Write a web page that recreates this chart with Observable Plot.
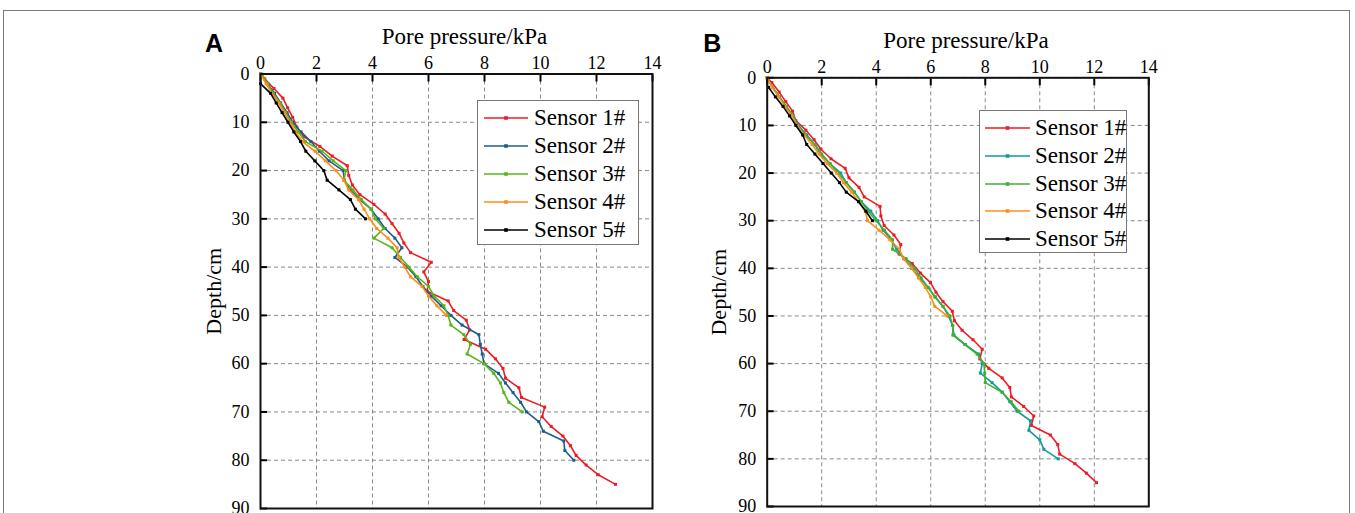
<!DOCTYPE html>
<html><head><meta charset="utf-8">
<script src="https://cdn.jsdelivr.net/npm/d3@7"></script>
<script src="https://cdn.jsdelivr.net/npm/@observablehq/plot@0.6"></script>
<style>
body{margin:0;background:#fff;}
#wrap{position:relative;width:1355px;height:513px;overflow:hidden;font-family:"Liberation Serif",serif;}
#border{position:absolute;left:3px;top:10px;width:1347px;height:540px;border:1.5px solid #7a7a7a;box-sizing:border-box;}
.panel{position:absolute;top:20px;}
.legend{position:absolute;border:1.5px solid #777;background:#fff;box-sizing:border-box;}
.legend .row{position:absolute;left:0;height:28px;width:100%;}
.legend svg{position:absolute;top:9px;}
.legend span{position:absolute;top:0;line-height:28px;font-size:23px;font-family:"Liberation Serif",serif;color:#000;white-space:nowrap;}
</style>
</head><body>
<div id="wrap"><div id="border"></div></div>
<script>
// ---------- axis ticks ----------
const xTicks = [0, 2, 4, 6, 8, 10, 12, 14];
const yTicks = [0, 10, 20, 30, 40, 50, 60, 70, 80, 90];
const sensors = ["Sensor 1#", "Sensor 2#", "Sensor 3#", "Sensor 4#", "Sensor 5#"];
const xTitle = "Pore pressure/kPa";
const yTitle = "Depth/cm";

// ---------- Panel A ----------
const aS1Depth = [0,1,3,5,7,9,11,13,15,17,19,21,23,25,27,29,31,33,35,37,39,41,43,45,47,49,51,53,55,57,59,61,63,65,67,69,71,73,75,77,79,81,83,85];
const aS1P     = [0,0.15,0.48,0.8,0.97,1.15,1.3,1.55,2.12,2.56,3.1,3.15,3.28,3.55,4.05,4.45,4.7,4.95,5.12,5.36,6.1,5.83,6.0,5.95,6.7,6.9,7.35,7.47,7.27,8.04,8.39,8.66,8.75,9.23,9.32,10.15,10.06,10.38,10.8,11.07,11.27,11.63,12.06,12.68];
const aS2Depth = [0,2,4,6,8,10,12,14,16,18,20,22,24,26,28,30,32,34,36,38,40,42,44,46,48,50,52,54,56,58,60,62,64,66,68,70,72,74,76,78,80];
const aS2P     = [0,0.25,0.5,0.72,0.95,1.15,1.45,1.8,2.1,2.45,2.95,3.0,3.2,3.55,3.95,4.2,4.45,4.8,5.05,4.8,5.25,5.55,5.8,6.1,6.45,6.8,7.2,7.8,7.85,7.92,7.98,8.5,8.75,9.02,9.29,9.5,9.94,10.1,10.83,10.87,11.19];
const aS3Depth = [0,2,4,6,8,10,12,14,16,18,20,22,24,26,28,30,32,34,36,38,40,42,44,46,48,50,52,54,56,58,60,62,64,66,68,70];
const aS3P     = [0.05,0.25,0.45,0.7,0.9,1.1,1.35,1.6,2.2,2.6,3.05,2.98,3.3,3.6,3.95,4.1,4.4,4.05,4.7,5.0,5.3,5.6,6.0,6.2,6.55,6.7,6.8,7.26,7.5,7.38,7.98,8.33,8.57,8.69,8.87,9.35];
const aS4Depth = [0,2,4,6,8,10,12,14,16,18,20,22,24,26,28,30,32,34,36,38,40,42,44,46,48,50];
const aS4P     = [0,0.2,0.4,0.65,0.85,1.05,1.25,1.5,1.95,2.32,2.7,2.98,3.15,3.5,3.7,3.9,4.15,4.55,4.88,4.94,5.15,5.36,5.77,6.0,6.3,6.64];
const aS5Depth = [2,4,6,8,10,12,14,16,18,20,22,24,26,28,30];
const aS5P     = [0,0.36,0.56,0.77,0.98,1.19,1.43,1.62,1.94,2.26,2.38,2.8,3.21,3.39,3.75];

// ---------- Panel B ----------
const bS1Depth = [0,1,3,5,7,9,11,13,15,17,19,21,23,25,27,29,31,33,35,37,39,41,43,45,47,49,51,53,55,57,59,61,63,65,67,69,71,73,75,77,79,81,83,85];
const bS1P     = [0,0.17,0.44,0.68,0.93,1.05,1.42,1.72,1.97,2.34,2.86,3.0,3.37,3.56,4.14,4.17,4.29,4.65,4.9,4.84,5.32,5.62,5.99,6.19,6.45,6.79,6.87,7.15,7.55,7.89,7.8,8.13,8.62,8.9,8.96,9.41,9.78,9.69,10.39,10.66,10.73,11.29,11.71,12.08];
const bS2Depth = [0,2,4,6,8,10,12,14,16,18,20,22,24,26,28,30,32,34,36,38,40,42,44,46,48,50,52,54,56,58,60,62,64,66,68,70,72,74,76,78,80];
const bS2P     = [0,0.2,0.45,0.7,0.95,1.15,1.45,1.75,1.95,2.3,2.7,2.9,3.2,3.45,3.8,4.05,4.25,4.55,4.75,5.05,5.3,5.6,5.9,6.17,6.45,6.65,6.8,6.85,7.27,7.76,7.89,7.82,8.25,8.62,8.9,9.17,9.66,9.6,10.0,10.15,10.68];
const bS3Depth = [0,2,4,6,8,10,12,14,16,18,20,22,24,26,28,30,32,34,36,38,40,42,44,46,48,50,52,54,56,58,60,62,64,66,68,70];
const bS3P     = [0,0.2,0.45,0.7,0.95,1.1,1.4,1.75,2.0,2.3,2.6,2.9,3.2,3.45,3.7,4.0,4.3,4.6,4.6,5.1,5.4,5.65,5.9,6.15,6.45,6.7,6.81,6.81,7.25,7.7,7.95,7.98,8.0,8.62,8.95,9.23];
const bS4Depth = [0,2,4,6,8,10,12,14,16,18,20,22,24,26,28,30,32,34,36,38,40,42,44,46,48,50];
const bS4P     = [0,0.18,0.42,0.65,0.9,1.1,1.35,1.65,1.9,2.2,2.55,2.8,3.1,3.35,3.6,3.68,4.1,4.5,4.85,5.0,5.3,5.55,5.8,6.0,6.15,6.6];
const bS5Depth = [2,4,6,8,10,12,14,16,18,20,22,24,26,28,30];
const bS5P     = [0.05,0.3,0.58,0.82,1.05,1.3,1.45,1.75,2.05,2.35,2.65,2.9,3.35,3.62,3.86];

// ---------- styles ----------
const colorsA = ["#ec1c24", "#1d5c8c", "#5ab31e", "#ff8c1a", "#000000"];
const colorsB = ["#ec1c24", "#169a9a", "#3fb035", "#ff8c1a", "#000000"];
const SERIF = "Liberation Serif";

function rows(depths, values) { return depths.map((d, i) => ({d, p: values[i]})); }

function makePanel(cfg) {
  const marks = [
    Plot.gridX({ticks: xTicks, stroke: "#8a8a8a", strokeOpacity: 1, strokeDasharray: "4,3", strokeWidth: 1}),
    Plot.gridY({ticks: yTicks, stroke: "#8a8a8a", strokeOpacity: 1, strokeDasharray: "4,3", strokeWidth: 1}),
    Plot.axisX({ticks: xTicks, anchor: "top", tickSize: 0, tickPadding: 5, label: null, fontSize: 18, fontFamily: SERIF}),
    Plot.axisX({ticks: xTicks, anchor: "top", tickSize: 7, dy: 7, text: null, label: null, strokeWidth: 2}),
    Plot.axisY({ticks: yTicks, anchor: "left", tickSize: 0, tickPadding: 11, label: null, fontSize: 18, fontFamily: SERIF}),
    Plot.axisY({ticks: yTicks, anchor: "left", tickSize: 7, dx: 7, text: null, label: null, strokeWidth: 2})
  ];
  cfg.series.forEach((s, i) => {
    const data = rows(s[0], s[1]);
    marks.push(Plot.line(data, {x: "p", y: "d", stroke: cfg.colors[i], strokeWidth: 1.6}));
    marks.push(Plot.dot(data, {x: "p", y: "d", fill: cfg.colors[i], symbol: "square", r: 1.7}));
  });
  marks.push(Plot.frame({stroke: "#111", strokeWidth: 2}));
  marks.push(Plot.text([xTitle], {frameAnchor: "top", textAnchor: "middle", lineAnchor: "middle",
    dx: 8, dy: -37, fontSize: 23, fontFamily: SERIF}));
  marks.push(Plot.text([yTitle], {frameAnchor: "left", textAnchor: "middle", lineAnchor: "middle",
    rotate: -90, dx: cfg.yTitleDx, fontSize: 22, fontFamily: SERIF}));
  marks.push(Plot.text([cfg.tag], {frameAnchor: "top-left", textAnchor: "middle", lineAnchor: "middle",
    dx: cfg.tagDx, dy: cfg.tagDy, fontSize: 25, fontFamily: "Liberation Sans", fontWeight: "bold"}));
  return Plot.plot({
    width: cfg.width, height: cfg.height,
    marginLeft: cfg.ml, marginRight: cfg.mr, marginTop: cfg.mt, marginBottom: cfg.mb,
    x: {domain: [0, 14]},
    y: {domain: [0, 90], reverse: true},
    style: {fontFamily: SERIF, fontSize: "18px", background: "transparent", overflow: "visible", color: "#000"},
    marks
  });
}

function makeLegend(colors, box) {
  const div = document.createElement("div");
  div.className = "legend";
  Object.assign(div.style, {left: box.left + "px", top: box.top + "px", width: box.w + "px", height: box.h + "px"});
  sensors.forEach((name, i) => {
    const row = document.createElement("div");
    row.className = "row";
    row.style.top = (box.rowTop + box.rowStep * i) + "px";
    const svg = d3.create("svg").attr("width", box.sw).attr("height", 10)
      .style("left", box.sx + "px");
    svg.append("line").attr("x1", 0).attr("x2", box.sw).attr("y1", 5).attr("y2", 5)
      .attr("stroke", colors[i]).attr("stroke-width", 1.6);
    svg.append("rect").attr("x", box.sw / 2 - 1.8).attr("y", 3.2).attr("width", 3.6).attr("height", 3.6)
      .attr("fill", colors[i]);
    row.appendChild(svg.node());
    const sp = document.createElement("span");
    sp.textContent = name;
    sp.style.left = box.tx + "px";
    row.appendChild(sp);
    div.appendChild(row);
  });
  return div;
}

const wrap = document.getElementById("wrap");

const pA = makePanel({
  tag: "A", width: 540, height: 493, ml: 110, mr: 38, mt: 53.5, mb: 5,
  yTitleDx: -47, tagDx: -46.5, tagDy: -30, colors: colorsA,
  series: [[aS1Depth, aS1P], [aS2Depth, aS2P], [aS3Depth, aS3P], [aS4Depth, aS4P], [aS5Depth, aS5P]]
});
pA.classList.add("panel"); pA.style.left = "150px";
wrap.appendChild(pA);

const pB = makePanel({
  tag: "B", width: 540, height: 493, ml: 106.7, mr: 51.7, mt: 57.3, mb: 7,
  yTitleDx: -48.7, tagDx: -55, tagDy: -34, colors: colorsB,
  series: [[bS1Depth, bS1P], [bS2Depth, bS2P], [bS3Depth, bS3P], [bS4Depth, bS4P], [bS5Depth, bS5P]]
});
pB.classList.add("panel"); pB.style.left = "660px";
wrap.appendChild(pB);

wrap.appendChild(makeLegend(colorsA, {left: 477, top: 100, w: 162, h: 145, rowTop: 3, rowStep: 28, sx: 6, sw: 44, tx: 56}));
wrap.appendChild(makeLegend(colorsB, {left: 979, top: 110, w: 148, h: 143, rowTop: 3, rowStep: 27.8, sx: 5, sw: 45, tx: 55}));
</script>
</body></html>
